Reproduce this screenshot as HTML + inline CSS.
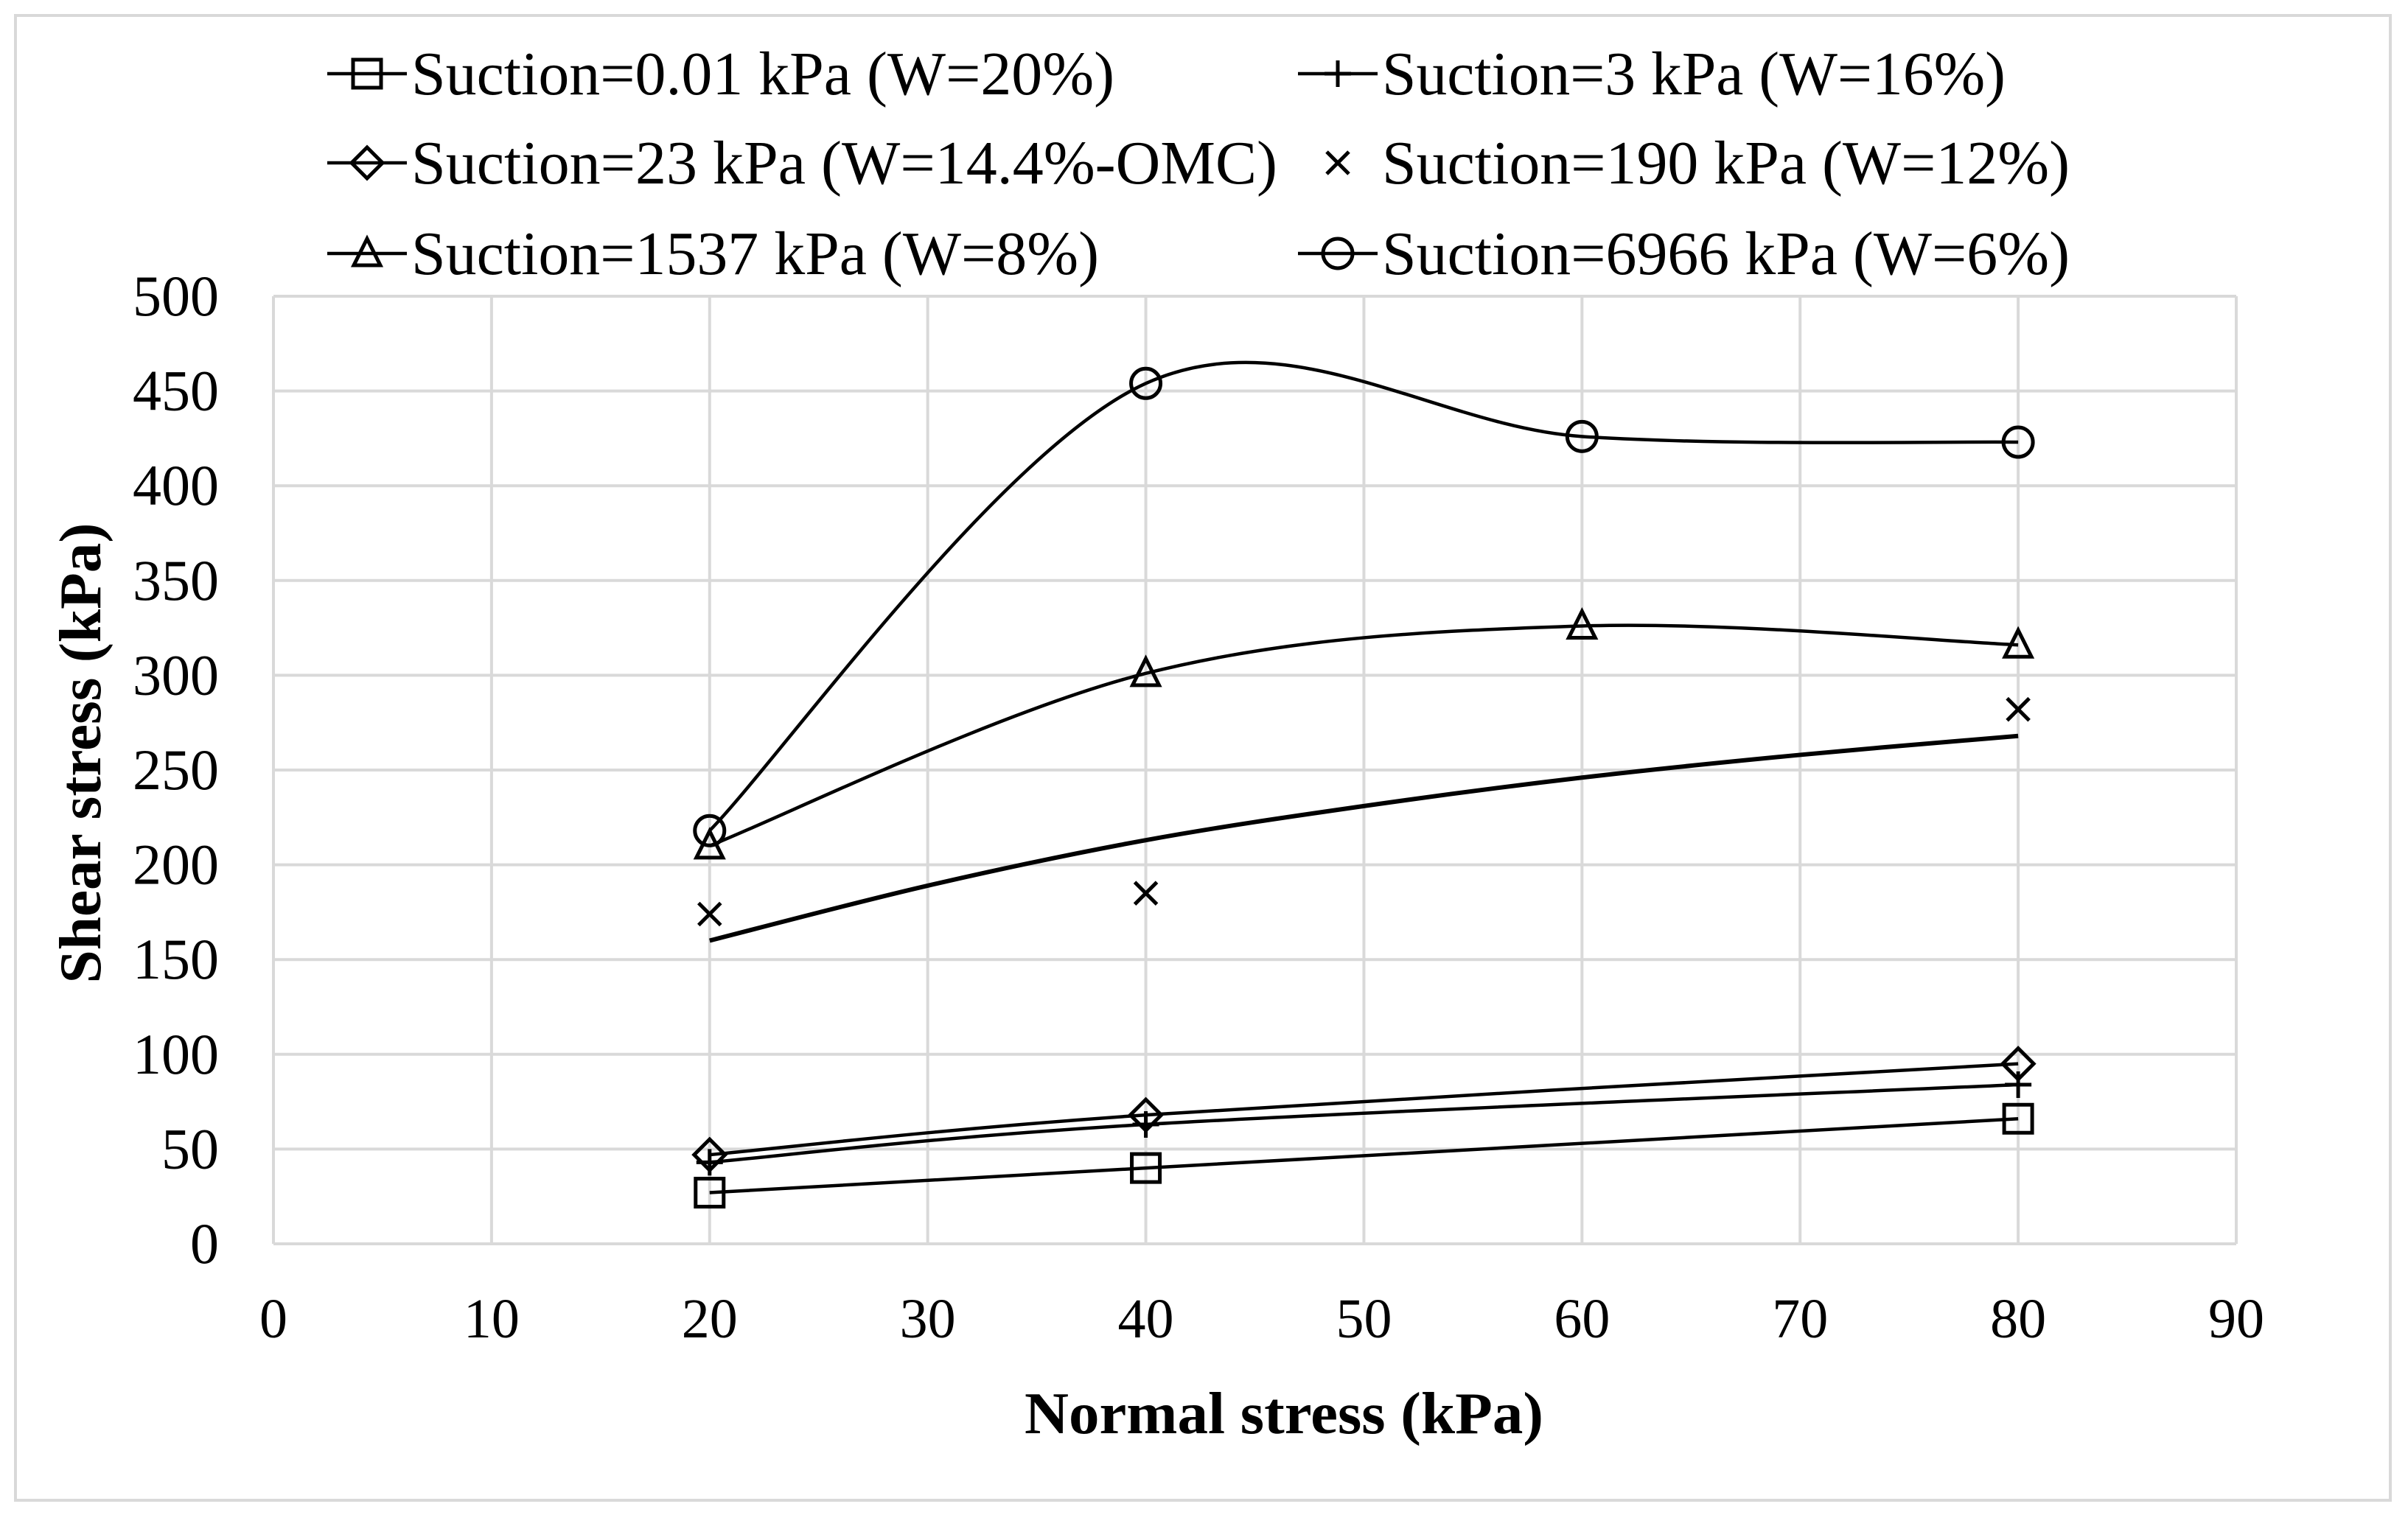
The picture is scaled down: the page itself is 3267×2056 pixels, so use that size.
<!DOCTYPE html>
<html><head><meta charset="utf-8"><style>
html,body{margin:0;padding:0;background:#fff}
svg{display:block}
text{font-family:"Liberation Serif",serif;fill:#000}
</style></head><body>
<svg id="chart" width="3267" height="2056" viewBox="0 0 3267 2056" xmlns="http://www.w3.org/2000/svg">
<rect x="21" y="21" width="3222" height="2015" fill="#fff" stroke="#d9d9d9" stroke-width="4"/>
<g id="grid"></g><g id="series"></g><g id="axes"></g><g id="legend"></g>
</svg>
<script>
const xTicks=[0,10,20,30,40,50,60,70,80,90];
const yTicks=[0,50,100,150,200,250,300,350,400,450,500];
const x0520=[20,40,80];
const s001=[27,40,66];
const s3=[43,63,84];
const s23=[47,68,95];
const x190=[20,40,80];
const s190=[174,185,282];
const trendX=[20,30,40,50,60,70,80];
const trend190=[160,189,213,231,246,258,268];
const x4=[20,40,60,80];
const s1537=[210,301,326,316];
const s6966=[218,454,426,423];
const NS="http://www.w3.org/2000/svg";
const PL=371,PR=3034,PT=402,PB=1688;
const X=v=>PL+(v-0)/(90-0)*(PR-PL);
const Y=v=>PB-(v-0)/(500-0)*(PB-PT);
function mk(tag,attrs,parent){const e=document.createElementNS(NS,tag);for(const k in attrs)e.setAttribute(k,attrs[k]);parent.appendChild(e);return e;}
const grid=document.getElementById('grid'),axes=document.getElementById('axes'),ser=document.getElementById('series'),leg=document.getElementById('legend');
xTicks.forEach(t=>{const l=mk('line',{x1:X(t),x2:X(t),y1:PT,y2:PB,stroke:'#d9d9d9','stroke-width':4},grid);


const tx=mk('text',{x:X(t),y:1815,'font-size':76,'text-anchor':'middle'},axes);tx.textContent=t;

});
yTicks.forEach(t=>{const l=mk('line',{x1:PL,x2:PR,y1:Y(t),y2:Y(t),stroke:'#d9d9d9','stroke-width':4},grid);


const tx=mk('text',{x:297,y:Y(t)+26,'font-size':78,'text-anchor':'end'},axes);tx.textContent=t;

});
const xt=mk('text',{x:1742,y:1945,'font-size':80,'font-weight':'bold','text-anchor':'middle',textLength:704,lengthAdjust:'spacingAndGlyphs'},axes);xt.textContent='Normal stress (kPa)';


const yt=mk('text',{x:0,y:0,'font-size':80,'font-weight':'bold','text-anchor':'middle',textLength:625,lengthAdjust:'spacingAndGlyphs',transform:'translate(136,1022) rotate(-90)'},axes);yt.textContent='Shear stress (kPa)';


function smooth(pts){let d='M'+pts[0][0]+','+pts[0][1];for(let i=0;i<pts.length-1;i++){const p0=pts[Math.max(0,i-1)],p1=pts[i],p2=pts[i+1],p3=pts[Math.min(pts.length-1,i+2)];
const c1=[p1[0]+(p2[0]-p0[0])/6,p1[1]+(p2[1]-p0[1])/6],c2=[p2[0]-(p3[0]-p1[0])/6,p2[1]-(p3[1]-p1[1])/6];d+=' C'+c1+' '+c2+' '+p2;}return d;}
function line(xs,ys,name,w){const p=mk('path',{d:smooth(xs.map((x,i)=>[X(x),Y(ys[i])])),fill:'none',stroke:'#000','stroke-width':w||4.5},ser);

}
function marker(type,cx,cy,parent){const a={fill:'none',stroke:'#000','stroke-width':5};let e;
if(type==='square')e=mk('rect',Object.assign({x:cx-19,y:cy-19,width:38,height:38},a),parent);
else if(type==='diamond')e=mk('path',Object.assign({d:`M${cx},${cy-21}L${cx+21},${cy}L${cx},${cy+21}L${cx-21},${cy}Z`},a),parent);
else if(type==='triangle')e=mk('path',Object.assign({d:`M${cx},${cy-20}L${cx+18},${cy+16}L${cx-18},${cy+16}Z`},a),parent);
else if(type==='circle')e=mk('circle',Object.assign({cx:cx,cy:cy,r:20},a),parent);
else if(type==='plus')e=mk('path',Object.assign({d:`M${cx-18},${cy}H${cx+18}M${cx},${cy-18}V${cy+18}`},a),parent);
else if(type==='cross')e=mk('path',Object.assign({d:`M${cx-15},${cy-15}L${cx+15},${cy+15}M${cx+15},${cy-15}L${cx-15},${cy+15}`},a),parent);

}
line(x0520,s001,'series-suction-0-01');x0520.forEach((x,i)=>marker('square',X(x),Y(s001[i]),ser));
line(x0520,s3,'series-suction-3');x0520.forEach((x,i)=>marker('plus',X(x),Y(s3[i]),ser));
line(x0520,s23,'series-suction-23');x0520.forEach((x,i)=>marker('diamond',X(x),Y(s23[i]),ser));
line(trendX,trend190,'trendline-suction-190',6);x190.forEach((x,i)=>marker('cross',X(x),Y(s190[i]),ser));
line(x4,s1537,'series-suction-1537');x4.forEach((x,i)=>marker('triangle',X(x),Y(s1537[i]),ser));
line(x4,s6966,'series-suction-6966');x4.forEach((x,i)=>marker('circle',X(x),Y(s6966[i]),ser));
const legItems=[['square','Suction=0.01 kPa (W=20%)',0,0,954,true],['plus','Suction=3 kPa (W=16%)',1,0,846,true],
['diamond','Suction=23 kPa (W=14.4%-OMC)',0,1,1175,true],['cross','Suction=190 kPa (W=12%)',1,1,933,false],
['triangle','Suction=1537 kPa (W=8%)',0,2,933,true],['circle','Suction=6966 kPa (W=6%)',1,2,933,true]];
legItems.forEach(it=>{const g=mk('g',{},leg);


const lx=it[2]?1761:444,ly=[100,221,344][it[3]];
if(it[5])mk('line',{x1:lx,x2:lx+108,y1:ly,y2:ly,stroke:'#000','stroke-width':4.5},g);
marker(it[0],lx+54,ly,g);
const t=mk('text',{x:lx+114,y:ly+28,'font-size':84,textLength:it[4],lengthAdjust:'spacingAndGlyphs'},g);t.textContent=it[1];

});
</script>
</body></html>
